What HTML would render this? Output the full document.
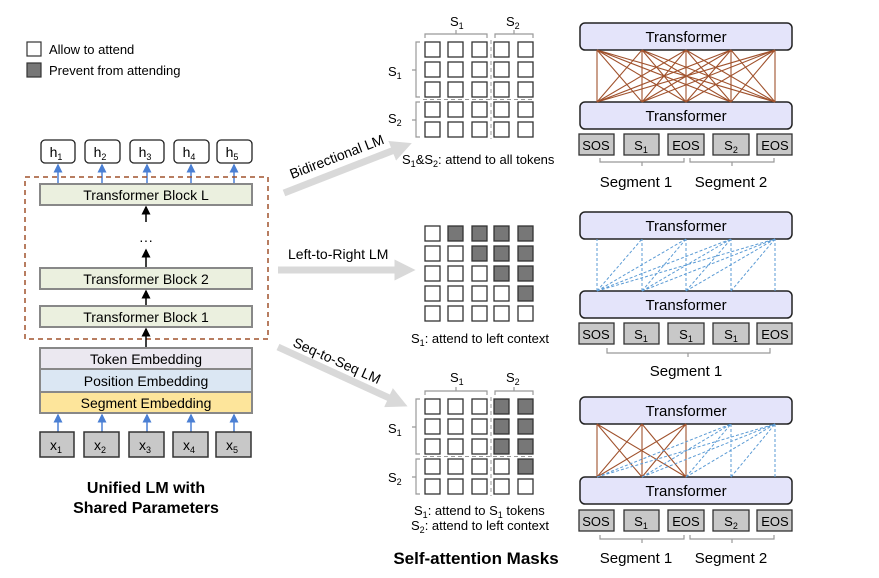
<!DOCTYPE html>
<html><head><meta charset="utf-8"><style>
body{margin:0;background:#fff}
svg{display:block;font-family:"Liberation Sans",Arial,sans-serif}
</style></head><body>
<svg width="879" height="578" viewBox="0 0 879 578" xmlns="http://www.w3.org/2000/svg">
<defs>
<marker id="ab" markerWidth="6" markerHeight="6" refX="5" refY="3" orient="auto"><path d="M0,0 L6,3 L0,6z" fill="#4a7fd4"/></marker>
<marker id="ak" markerWidth="6" markerHeight="6" refX="5" refY="3" orient="auto"><path d="M0,0 L6,3 L0,6z" fill="#000"/></marker>
<marker id="ag" markerWidth="3" markerHeight="3" refX="1.5" refY="1.5" orient="auto"><path d="M0,0 L3,1.5 L0,3z" fill="#d9d9d9"/></marker>
</defs>
<!-- legend -->
<rect x="27" y="42" width="14" height="14" fill="#fff" stroke="#333" stroke-width="1.2"/>
<text x="49" y="54" font-size="13">Allow to attend</text>
<rect x="27" y="63" width="14" height="14" fill="#777" stroke="#333" stroke-width="1.2"/>
<text x="49" y="75" font-size="13">Prevent from attending</text>

<!-- left stack -->
<g font-size="14" text-anchor="middle">
<g fill="#fff" stroke="#222" stroke-width="1.3">
<rect x="41" y="140" width="34" height="23" rx="4"/><rect x="85" y="140" width="35" height="23" rx="4"/><rect x="130" y="140" width="34" height="23" rx="4"/><rect x="174" y="140" width="35" height="23" rx="4"/><rect x="217" y="140" width="35" height="23" rx="4"/>
</g>
<text x="56" y="157">h<tspan font-size="9" dy="3">1</tspan></text>
<text x="100" y="157">h<tspan font-size="9" dy="3">2</tspan></text>
<text x="145" y="157">h<tspan font-size="9" dy="3">3</tspan></text>
<text x="189" y="157">h<tspan font-size="9" dy="3">4</tspan></text>
<text x="232" y="157">h<tspan font-size="9" dy="3">5</tspan></text>
</g>
<g stroke="#4a7fd4" stroke-width="1.5" marker-end="url(#ab)">
<line x1="58" y1="183" x2="58" y2="165"/><line x1="102" y1="183" x2="102" y2="165"/><line x1="147" y1="183" x2="147" y2="165"/><line x1="191" y1="183" x2="191" y2="165"/><line x1="234" y1="183" x2="234" y2="165"/>
<line x1="58" y1="432" x2="58" y2="415"/><line x1="102" y1="432" x2="102" y2="415"/><line x1="147" y1="432" x2="147" y2="415"/><line x1="191" y1="432" x2="191" y2="415"/><line x1="234" y1="432" x2="234" y2="415"/>
</g>
<rect x="25" y="177" width="243" height="162" fill="none" stroke="#a0522d" stroke-width="1.5" stroke-dasharray="5,4"/>
<g fill="#ebf0df" stroke="#888" stroke-width="2">
<rect x="40" y="184" width="212" height="21"/><rect x="40" y="268" width="212" height="21"/><rect x="40" y="306" width="212" height="21"/>
</g>
<g font-size="14" text-anchor="middle">
<text x="146" y="200">Transformer Block L</text>
<text x="146" y="284">Transformer Block 2</text>
<text x="146" y="322">Transformer Block 1</text>
<text x="146" y="245" font-size="14">···</text>
</g>
<g stroke="#000" stroke-width="1.5" marker-end="url(#ak)">
<line x1="146" y1="222" x2="146" y2="207"/><line x1="146" y1="267" x2="146" y2="250"/><line x1="146" y1="305" x2="146" y2="291"/><line x1="146" y1="347" x2="146" y2="329"/>
</g>
<rect x="40" y="348" width="212" height="21" fill="#ebe8f0" stroke="#888" stroke-width="2"/>
<rect x="40" y="369" width="212" height="23" fill="#dbe7f3" stroke="#888" stroke-width="2"/>
<rect x="40" y="392" width="212" height="21" fill="#fde59b" stroke="#888" stroke-width="2"/>
<g font-size="14" text-anchor="middle">
<text x="146" y="364">Token Embedding</text>
<text x="146" y="386">Position Embedding</text>
<text x="146" y="408">Segment Embedding</text>
</g>
<g fill="#c8c8c8" stroke="#333" stroke-width="1.5">
<rect x="40" y="432" width="34" height="25"/><rect x="84" y="432" width="35" height="25"/><rect x="129" y="432" width="35" height="25"/><rect x="173" y="432" width="35" height="25"/><rect x="216" y="432" width="35" height="25"/>
</g>
<g font-size="14" text-anchor="middle">
<text x="56" y="450">x<tspan font-size="9" dy="3">1</tspan></text>
<text x="100" y="450">x<tspan font-size="9" dy="3">2</tspan></text>
<text x="145" y="450">x<tspan font-size="9" dy="3">3</tspan></text>
<text x="189" y="450">x<tspan font-size="9" dy="3">4</tspan></text>
<text x="232" y="450">x<tspan font-size="9" dy="3">5</tspan></text>
</g>
<g font-size="16" font-weight="bold" text-anchor="middle">
<text x="146" y="493">Unified LM with</text>
<text x="146" y="513">Shared Parameters</text>
</g>

<!-- grey arrows -->
<g stroke="#d9d9d9" stroke-width="7" marker-end="url(#ag)">
<line x1="284" y1="193" x2="402" y2="147"/>
<line x1="278" y1="270" x2="405" y2="270"/>
<line x1="278" y1="347" x2="398" y2="402"/>
</g>
<text font-size="14" transform="translate(292,179) rotate(-21)">Bidirectional LM</text>
<text x="288" y="259" font-size="14">Left-to-Right LM</text>
<text font-size="14" transform="translate(292,346) rotate(24)">Seq-to-Seq LM</text>

<!-- masks -->
<g fill="#fff" stroke="#333" stroke-width="1.3">
<!-- top -->
<rect x="425" y="42" width="15" height="15"/><rect x="448" y="42" width="15" height="15"/><rect x="472" y="42" width="15" height="15"/><rect x="494" y="42" width="15" height="15"/><rect x="518" y="42" width="15" height="15"/>
<rect x="425" y="62" width="15" height="15"/><rect x="448" y="62" width="15" height="15"/><rect x="472" y="62" width="15" height="15"/><rect x="494" y="62" width="15" height="15"/><rect x="518" y="62" width="15" height="15"/>
<rect x="425" y="82" width="15" height="15"/><rect x="448" y="82" width="15" height="15"/><rect x="472" y="82" width="15" height="15"/><rect x="494" y="82" width="15" height="15"/><rect x="518" y="82" width="15" height="15"/>
<rect x="425" y="102" width="15" height="15"/><rect x="448" y="102" width="15" height="15"/><rect x="472" y="102" width="15" height="15"/><rect x="494" y="102" width="15" height="15"/><rect x="518" y="102" width="15" height="15"/>
<rect x="425" y="122" width="15" height="15"/><rect x="448" y="122" width="15" height="15"/><rect x="472" y="122" width="15" height="15"/><rect x="494" y="122" width="15" height="15"/><rect x="518" y="122" width="15" height="15"/>
<!-- middle -->
<rect x="425" y="226" width="15" height="15"/>
<rect x="425" y="246" width="15" height="15"/><rect x="448" y="246" width="15" height="15"/>
<rect x="425" y="266" width="15" height="15"/><rect x="448" y="266" width="15" height="15"/><rect x="472" y="266" width="15" height="15"/>
<rect x="425" y="286" width="15" height="15"/><rect x="448" y="286" width="15" height="15"/><rect x="472" y="286" width="15" height="15"/><rect x="494" y="286" width="15" height="15"/>
<rect x="425" y="306" width="15" height="15"/><rect x="448" y="306" width="15" height="15"/><rect x="472" y="306" width="15" height="15"/><rect x="494" y="306" width="15" height="15"/><rect x="518" y="306" width="15" height="15"/>
<!-- bottom -->
<rect x="425" y="399" width="15" height="15"/><rect x="448" y="399" width="15" height="15"/><rect x="472" y="399" width="15" height="15"/>
<rect x="425" y="419" width="15" height="15"/><rect x="448" y="419" width="15" height="15"/><rect x="472" y="419" width="15" height="15"/>
<rect x="425" y="439" width="15" height="15"/><rect x="448" y="439" width="15" height="15"/><rect x="472" y="439" width="15" height="15"/>
<rect x="425" y="459" width="15" height="15"/><rect x="448" y="459" width="15" height="15"/><rect x="472" y="459" width="15" height="15"/><rect x="494" y="459" width="15" height="15"/>
<rect x="425" y="479" width="15" height="15"/><rect x="448" y="479" width="15" height="15"/><rect x="472" y="479" width="15" height="15"/><rect x="494" y="479" width="15" height="15"/><rect x="518" y="479" width="15" height="15"/>
</g>
<g fill="#777" stroke="#333" stroke-width="1.3">
<rect x="448" y="226" width="15" height="15"/><rect x="472" y="226" width="15" height="15"/><rect x="494" y="226" width="15" height="15"/><rect x="518" y="226" width="15" height="15"/>
<rect x="472" y="246" width="15" height="15"/><rect x="494" y="246" width="15" height="15"/><rect x="518" y="246" width="15" height="15"/>
<rect x="494" y="266" width="15" height="15"/><rect x="518" y="266" width="15" height="15"/>
<rect x="518" y="286" width="15" height="15"/>
<rect x="494" y="399" width="15" height="15"/><rect x="518" y="399" width="15" height="15"/>
<rect x="494" y="419" width="15" height="15"/><rect x="518" y="419" width="15" height="15"/>
<rect x="494" y="439" width="15" height="15"/><rect x="518" y="439" width="15" height="15"/>
<rect x="518" y="459" width="15" height="15"/>
</g>
<g stroke="#999" stroke-width="1" stroke-dasharray="4,3" fill="none">
<line x1="491" y1="40" x2="491" y2="139"/><line x1="423" y1="99.5" x2="535" y2="99.5"/>
<line x1="491" y1="397" x2="491" y2="496"/><line x1="423" y1="456.5" x2="535" y2="456.5"/>
</g>
<g stroke="#999" stroke-width="1.2" fill="none">
<path d="M425,38 V34 H487 V38 M456,34 V30 M495,38 V34 H533 V38 M514,34 V30"/>
<path d="M420,42 H416 V97 H420 M416,70 H412 M420,102 H416 V137 H420 M416,120 H412"/>
<path d="M425,395 V391 H487 V395 M456,391 V387 M495,395 V391 H533 V395 M514,391 V387"/>
<path d="M420,399 H416 V454 H420 M416,427 H412 M420,459 H416 V494 H420 M416,477 H412"/>
</g>
<g font-size="13">
<text x="450" y="26">S<tspan font-size="9" dy="3">1</tspan></text>
<text x="506" y="26">S<tspan font-size="9" dy="3">2</tspan></text>
<text x="388" y="76">S<tspan font-size="9" dy="3">1</tspan></text>
<text x="388" y="123">S<tspan font-size="9" dy="3">2</tspan></text>
<text x="402" y="164">S<tspan font-size="9" dy="3">1</tspan><tspan dy="-3">&amp;S</tspan><tspan font-size="9" dy="3">2</tspan><tspan dy="-3">: attend to all tokens</tspan></text>
<text x="411" y="343">S<tspan font-size="9" dy="3">1</tspan><tspan dy="-3">: attend to left context</tspan></text>
<text x="450" y="382">S<tspan font-size="9" dy="3">1</tspan></text>
<text x="506" y="382">S<tspan font-size="9" dy="3">2</tspan></text>
<text x="388" y="433">S<tspan font-size="9" dy="3">1</tspan></text>
<text x="388" y="482">S<tspan font-size="9" dy="3">2</tspan></text>
<text x="414" y="515">S<tspan font-size="9" dy="3">1</tspan><tspan dy="-3">: attend to S</tspan><tspan font-size="9" dy="3">1</tspan><tspan dy="-3"> tokens</tspan></text>
<text x="411" y="530">S<tspan font-size="9" dy="3">2</tspan><tspan dy="-3">: attend to left context</tspan></text>
</g>
<text x="476" y="564" font-size="17" font-weight="bold" text-anchor="middle">Self-attention Masks</text>

<!-- right transformers -->
<g fill="#e4e4fa" stroke="#222" stroke-width="1.5">
<rect x="580" y="23" width="212" height="27" rx="5"/><rect x="580" y="102" width="212" height="27" rx="5"/>
<rect x="580" y="212" width="212" height="27" rx="5"/><rect x="580" y="291" width="212" height="27" rx="5"/>
<rect x="580" y="397" width="212" height="27" rx="5"/><rect x="580" y="477" width="212" height="27" rx="5"/>
</g>
<g font-size="15" text-anchor="middle">
<text x="686" y="42">Transformer</text><text x="686" y="121">Transformer</text>
<text x="686" y="231">Transformer</text><text x="686" y="310">Transformer</text>
<text x="686" y="416">Transformer</text><text x="686" y="496">Transformer</text>
</g>
<!-- top connections -->
<g stroke="#a0522d" stroke-width="1.1">
<path d="M597,102L597,50M597,102L642,50M597,102L686,50M597,102L731,50M597,102L775,50
M642,102L597,50M642,102L642,50M642,102L686,50M642,102L731,50M642,102L775,50
M686,102L597,50M686,102L642,50M686,102L686,50M686,102L731,50M686,102L775,50
M731,102L597,50M731,102L642,50M731,102L686,50M731,102L731,50M731,102L775,50
M775,102L597,50M775,102L642,50M775,102L686,50M775,102L731,50M775,102L775,50"/>
<path d="M597,477L597,424M597,477L642,424M597,477L686,424M642,477L597,424M642,477L642,424M642,477L686,424M686,477L597,424M686,477L642,424M686,477L686,424"/>
</g>
<g stroke="#5b9bd5" stroke-width="1" stroke-dasharray="3,2">
<path d="M597,291L597,239M597,291L642,239M597,291L686,239M597,291L731,239M597,291L775,239
M642,291L642,239M642,291L686,239M642,291L731,239M642,291L775,239
M686,291L686,239M686,291L731,239M686,291L775,239
M731,291L731,239M731,291L775,239M775,291L775,239"/>
<path d="M597,477L731,424M642,477L731,424M686,477L731,424M731,477L731,424
M597,477L775,424M642,477L775,424M686,477L775,424M731,477L775,424M775,477L775,424"/>
</g>
<!-- tokens -->
<g fill="#c8c8c8" stroke="#333" stroke-width="1.3">
<rect x="579" y="134" width="35" height="21"/><rect x="624" y="134" width="35" height="21"/><rect x="668" y="134" width="36" height="21"/><rect x="713" y="134" width="36" height="21"/><rect x="757" y="134" width="35" height="21"/>
<rect x="579" y="323" width="35" height="21"/><rect x="624" y="323" width="35" height="21"/><rect x="668" y="323" width="36" height="21"/><rect x="713" y="323" width="36" height="21"/><rect x="757" y="323" width="35" height="21"/>
<rect x="579" y="510" width="35" height="21"/><rect x="624" y="510" width="35" height="21"/><rect x="668" y="510" width="36" height="21"/><rect x="713" y="510" width="36" height="21"/><rect x="757" y="510" width="35" height="21"/>
</g>
<g font-size="13" text-anchor="middle">
<text x="596" y="150">SOS</text><text x="641" y="150">S<tspan font-size="9" dy="3">1</tspan></text><text x="686" y="150">EOS</text><text x="731" y="150">S<tspan font-size="9" dy="3">2</tspan></text><text x="775" y="150">EOS</text>
<text x="596" y="339">SOS</text><text x="641" y="339">S<tspan font-size="9" dy="3">1</tspan></text><text x="686" y="339">S<tspan font-size="9" dy="3">1</tspan></text><text x="731" y="339">S<tspan font-size="9" dy="3">1</tspan></text><text x="775" y="339">EOS</text>
<text x="596" y="526">SOS</text><text x="641" y="526">S<tspan font-size="9" dy="3">1</tspan></text><text x="686" y="526">EOS</text><text x="731" y="526">S<tspan font-size="9" dy="3">2</tspan></text><text x="775" y="526">EOS</text>
</g>
<g stroke="#999" stroke-width="1.2" fill="none">
<path d="M600,158V162H684V158M642,162V166M690,158V162H774V158M732,162V166"/>
<path d="M607,348V353H770V348M688,353V357"/>
<path d="M600,535V539H684V535M642,539V543M690,535V539H774V535M732,539V543"/>
</g>
<g font-size="15" text-anchor="middle">
<text x="636" y="187">Segment 1</text><text x="731" y="187">Segment 2</text>
<text x="686" y="376">Segment 1</text>
<text x="636" y="563">Segment 1</text><text x="731" y="563">Segment 2</text>
</g>
</svg>
</body></html>
